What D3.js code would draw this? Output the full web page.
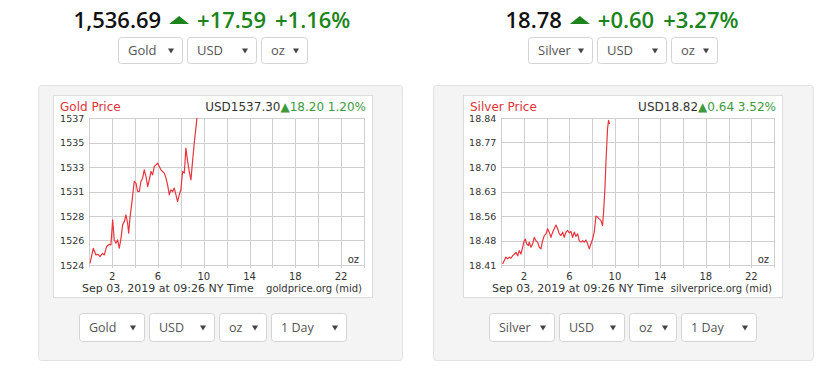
<!DOCTYPE html>
<html>
<head>
<meta charset="utf-8">
<script src="https://cdn.jsdelivr.net/npm/d3@7"></script>
<style>
  body { margin: 0; background: #fff; }
  svg { display: block; }
</style>
</head>
<body>
<svg id="chart" width="833" height="376"></svg>
<script>
// intraday data (hours since midnight, price per oz)
const goldHours = [0.06,0.35,0.58,0.76,0.93,1.16,1.31,1.51,1.75,1.89,2.04,2.18,2.33,2.47,2.62,2.77,2.91,3.06,3.2,3.35,3.44,3.55,3.73,3.93,4.08,4.22,4.37,4.51,4.66,4.8,4.95,5.1,5.24,5.39,5.53,5.68,5.82,5.97,6.11,6.26,6.4,6.55,6.7,6.84,6.99,7.13,7.28,7.42,7.57,7.71,7.86,8.0,8.15,8.3,8.44,8.59,8.73,8.88,9.02,9.17,9.4,9.45];
const goldValues = [1524.15,1525.48,1524.89,1524.95,1524.74,1525.03,1524.89,1525.63,1525.83,1525.77,1527.99,1526.22,1525.92,1526.22,1525.48,1526.36,1527.55,1527.84,1528.43,1527.69,1526.81,1528.14,1529.61,1531.39,1531.24,1530.5,1530.5,1531.39,1531.68,1532.42,1531.83,1530.94,1531.53,1532.27,1531.98,1532.72,1532.86,1533.01,1532.72,1532.42,1532.27,1532.13,1531.68,1531.09,1530.2,1530.65,1530.5,1530.8,1530.2,1529.61,1530.2,1530.65,1532.27,1532.13,1534.34,1533.16,1532.27,1531.53,1533.16,1534.78,1536.94,1537.3];

const silverHours = [0.12,0.26,0.41,0.56,0.7,0.85,1.0,1.14,1.29,1.44,1.58,1.73,1.88,2.02,2.11,2.23,2.38,2.46,2.61,2.76,2.9,3.05,3.2,3.34,3.49,3.64,3.78,3.93,4.08,4.22,4.37,4.52,4.66,4.81,4.96,5.1,5.25,5.4,5.54,5.69,5.84,5.98,6.13,6.28,6.42,6.57,6.72,6.86,7.01,7.16,7.3,7.45,7.6,7.74,7.89,8.04,8.18,8.33,8.48,8.62,8.77,8.91,9.0,9.12,9.21,9.35,9.44,9.53];
const silverValues = [18.415,18.425,18.435,18.43,18.435,18.432,18.439,18.444,18.449,18.439,18.454,18.444,18.464,18.483,18.488,18.474,18.469,18.479,18.464,18.474,18.493,18.483,18.479,18.464,18.459,18.483,18.498,18.503,18.518,18.508,18.493,18.508,18.518,18.529,18.518,18.503,18.498,18.508,18.493,18.508,18.513,18.506,18.51,18.493,18.508,18.496,18.503,18.483,18.479,18.483,18.479,18.485,18.474,18.459,18.474,18.488,18.508,18.555,18.552,18.547,18.542,18.527,18.566,18.635,18.713,18.811,18.835,18.825];

// y axis ranges and labels
const goldDomain = [1524, 1537];
const goldTickLabels = ["1524","1526","1528","1531","1533","1535","1537"];
const silverDomain = [18.412, 18.842];
const silverTickLabels = ["18.41","18.48","18.56","18.63","18.70","18.77","18.84"];

const xTickLabels = [2, 6, 10, 14, 18, 22];
const xGrid = d3.range(0, 25, 2);

// header quotes and chart captions
const goldQuote = { price: "1,536.69", change: "+17.59", pct: "+1.16%" };
const silverQuote = { price: "18.78", change: "+0.60", pct: "+3.27%" };
const goldCaption = { title: "Gold Price", price: "USD1537.30", change: "18.20", pct: "1.20%", source: "goldprice.org (mid)" };
const silverCaption = { title: "Silver Price", price: "USD18.82", change: "0.64", pct: "3.52%", source: "silverprice.org (mid)" };
const stamp = "Sep 03, 2019 at 09:26 NY Time";

const goldTopSelects = ["Gold", "USD", "oz"];
const silverTopSelects = ["Silver", "USD", "oz"];
const goldBottomSelects = ["Gold", "USD", "oz", "1 Day"];
const silverBottomSelects = ["Silver", "USD", "oz", "1 Day"];

const svg = d3.select("#chart");
const chartFont = "'DejaVu Sans', Verdana, sans-serif";
const uiFont = "'Open Sans', Arial, sans-serif";

function triangle(g, x, yBase, w, h, color) {
    g.append("path")
        .attr("d", `M${x},${yBase} L${x + w / 2},${yBase - h} L${x + w},${yBase} Z`)
        .attr("fill", color);
}

function selectBoxes(g, x0, y, h, widths, labels, fontSize) {
    let x = x0;
    widths.forEach((w, i) => {
        const b = g.append("g").attr("transform", `translate(${x},${y})`);
        b.append("rect")
            .attr("x", 0.5).attr("y", 0.5)
            .attr("width", w - 1).attr("height", h - 1)
            .attr("rx", 3)
            .attr("fill", "#fff")
            .attr("stroke", "#d4d4d4");
        b.append("text")
            .attr("x", 10).attr("y", h / 2 + fontSize * 0.36)
            .attr("font-family", uiFont)
            .attr("font-size", fontSize)
            .attr("fill", "#555")
            .text(labels[i]);
        // little dropdown arrow
        const ax = w - 15;
        b.append("path")
            .attr("d", `M${ax},${h / 2 - 2} L${ax + 6},${h / 2 - 2} L${ax + 3},${h / 2 + 3} Z`)
            .attr("fill", "#444");
        x += w + 4;
    });
}

function header(cx, quote) {
    const g = svg.append("g");
    const green = "#1b851b";
    const t1 = g.append("text").attr("y", 28)
        .attr("font-family", uiFont).attr("font-size", 22).attr("font-weight", 600)
        .attr("fill", "#111").text(quote.price);
    let x = t1.node().getComputedTextLength() + 8;
    triangle(g, x, 24, 20, 8, green);
    x += 28;
    const t2 = g.append("text").attr("x", x).attr("y", 28)
        .attr("font-family", uiFont).attr("font-size", 22).attr("font-weight", 600)
        .attr("fill", green).text(quote.change);
    x += t2.node().getComputedTextLength() + 9;
    const t3 = g.append("text").attr("x", x).attr("y", 28)
        .attr("font-family", uiFont).attr("font-size", 22).attr("font-weight", 600)
        .attr("fill", green).text(quote.pct);
    x += t3.node().getComputedTextLength();
    g.attr("transform", `translate(${cx - x / 2},0)`);
}

function widget(cfg) {
    const ox = cfg.offset;
    header(ox + 212, cfg.quote);
    selectBoxes(svg, ox + 118, 37, 27, [65, 70, 47], cfg.topSelects, 13);

    // outer grey panel and white chart box
    svg.append("rect")
        .attr("x", cfg.panel[0] + 0.5).attr("y", 85.5)
        .attr("width", cfg.panel[1] - cfg.panel[0]).attr("height", 275)
        .attr("rx", 3)
        .attr("fill", "#f4f4f4").attr("stroke", "#e2e2e2");
    svg.append("rect")
        .attr("x", ox + 53.5).attr("y", 95.5)
        .attr("width", 319).attr("height", 202)
        .attr("fill", "#fff").attr("stroke", "#dcdcdc");

    const left = ox + cfg.plotLeft, right = ox + cfg.plotRight;
    const top = 118, bottom = 265;

    const x = d3.scaleLinear().domain([0, 24]).range([left, right]);
    const y = d3.scaleLinear().domain(cfg.domain).range([bottom, top]);
    const [lo, hi] = cfg.domain;
    const yTicks = cfg.tickLabels.map((d, i) => lo + i * (hi - lo) / (cfg.tickLabels.length - 1));

    const g = svg.append("g");

    // grid
    g.append("g").selectAll("line").data(yTicks).join("line")
        .attr("x1", left).attr("x2", right)
        .attr("y1", d => Math.round(y(d)) + 0.5).attr("y2", d => Math.round(y(d)) + 0.5)
        .attr("stroke", "#cfcfcf");
    g.append("g").selectAll("line").data(xGrid).join("line")
        .attr("x1", d => Math.round(x(d)) + 0.5).attr("x2", d => Math.round(x(d)) + 0.5)
        .attr("y1", top).attr("y2", bottom + 3)
        .attr("stroke", "#cfcfcf");

    // y labels
    g.append("g").selectAll("text").data(yTicks).join("text")
        .attr("x", left - 5)
        .attr("y", d => y(d) + 3.5)
        .attr("text-anchor", "end")
        .attr("font-family", chartFont).attr("font-size", 9.5)
        .attr("fill", "#333")
        .text((d, i) => cfg.tickLabels[i]);

    // x labels
    g.append("g").selectAll("text").data(xTickLabels).join("text")
        .attr("x", d => x(d))
        .attr("y", 280)
        .attr("text-anchor", "middle")
        .attr("font-family", chartFont).attr("font-size", 10)
        .attr("fill", "#333")
        .text(d => d);

    // price line
    const clipId = "clip" + ox;
    svg.append("clipPath").attr("id", clipId)
        .append("rect").attr("x", left).attr("y", top).attr("width", right - left).attr("height", bottom - top);
    const line = d3.line().x(d => x(d[0])).y(d => y(d[1]));
    g.append("path")
        .datum(cfg.hours.map((h, i) => [h, cfg.values[i]]))
        .attr("clip-path", `url(#${clipId})`)
        .attr("d", line)
        .attr("fill", "none")
        .attr("stroke", "#e8343c")
        .attr("stroke-width", 1.2)
        .attr("stroke-linejoin", "round");

    g.append("text")
        .attr("x", right - 5).attr("y", 263)
        .attr("text-anchor", "end")
        .attr("font-family", chartFont).attr("font-size", 10)
        .attr("fill", "#333").text("oz");

    // captions
    const cap = cfg.caption;
    g.append("text")
        .attr("x", ox + 60).attr("y", 111)
        .attr("font-family", chartFont).attr("font-size", 12)
        .attr("fill", "#e0323a").text(cap.title);
    const rt = g.append("text")
        .attr("x", ox + 366).attr("y", 111)
        .attr("text-anchor", "end")
        .attr("font-family", chartFont).attr("font-size", 12);
    rt.append("tspan").attr("fill", "#333").text(cap.price);
    rt.append("tspan").attr("fill", "#3c9a3c").text("\u25B2" + cap.change + " " + cap.pct);

    g.append("text")
        .attr("x", ox + 82).attr("y", 292)
        .attr("font-family", chartFont).attr("font-size", 11)
        .attr("fill", "#333").text(stamp);
    g.append("text")
        .attr("x", ox + 362).attr("y", 292)
        .attr("text-anchor", "end")
        .attr("font-family", chartFont).attr("font-size", 10)
        .attr("fill", "#333").text(cap.source);

    selectBoxes(svg, ox + 79, 313, 29, [66, 66, 48, 76], cfg.bottomSelects, 12.5);
}

widget({
    offset: 0, quote: goldQuote, caption: goldCaption,
    topSelects: goldTopSelects, bottomSelects: goldBottomSelects,
    hours: goldHours, values: goldValues,
    domain: goldDomain, tickLabels: goldTickLabels,
    plotLeft: 89.3, plotRight: 364, panel: [38, 402]
});
widget({
    offset: 410, quote: silverQuote, caption: silverCaption,
    topSelects: silverTopSelects, bottomSelects: silverBottomSelects,
    hours: silverHours, values: silverValues,
    domain: silverDomain, tickLabels: silverTickLabels,
    plotLeft: 91.3, plotRight: 364, panel: [433, 813]
});
</script>
</body>
</html>
